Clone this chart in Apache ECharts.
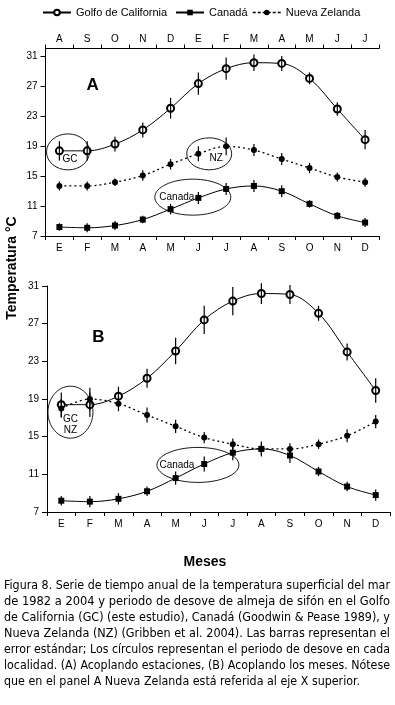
<!DOCTYPE html>
<html>
<head>
<meta charset="utf-8">
<script src="https://cdn.jsdelivr.net/npm/echarts@6/dist/echarts.min.js"></script>
<style>
html,body{margin:0;padding:0;background:#fff;}
#c{width:395px;height:705px;}
</style>
</head>
<body>
<div id="c"></div>
<script>
// ---------- data ----------
const months = ['E','F','M','A','M','J','J','A','S','O','N','D'];
const topMonths = ['A','S','O','N','D','E','F','M','A','M','J','J'];
const yTicks = [7, 11, 15, 19, 23, 27, 31];
const gcTemp = [18.4, 18.4, 19.3, 21.2, 24.1, 27.4, 29.4, 30.2, 30.1, 28.1, 24.0, 19.9];
const gcErr  = [1.3, 1.3, 1.0, 1.0, 1.4, 1.5, 1.5, 1.1, 1.0, 0.8, 0.9, 1.3];
const canTemp = [8.2, 8.1, 8.4, 9.2, 10.6, 12.1, 13.3, 13.7, 13.0, 11.3, 9.7, 8.8];
const canErr  = [0.5, 0.6, 0.6, 0.5, 0.7, 0.8, 0.8, 0.8, 0.8, 0.5, 0.5, 0.6];
const nzTemp = [18.0, 19.0, 18.5, 17.3, 16.1, 14.9, 14.2, 13.7, 13.7, 14.2, 15.1, 16.6]; // Ene..Dic
const nzErr  = [1.0, 1.2, 0.8, 0.8, 0.7, 0.6, 0.6, 0.6, 0.6, 0.5, 0.7, 0.7];
const nzShiftA = 7; // panel A: NZ referred to the upper axis, which starts in August
const names = ['Golfo de California', 'Canadá', 'Nueva Zelanda'];
const captionLines = [
  'Figura 8. Serie de tiempo anual de la temperatura superficial del mar',
  'de 1982 a 2004 y periodo de desove de almeja de sifón en el Golfo',
  'de California (GC) (este estudio), Canadá (Goodwin & Pease 1989), y',
  'Nueva Zelanda (NZ) (Gribben et al. 2004). Las barras representan el',
  'error estándar; Los círculos representan el periodo de desove en cada',
  'localidad. (A) Acoplando estaciones, (B) Acoplando los meses. Nótese',
  'que en el panel A Nueva Zelanda está referida al eje X superior.'
];

// ---------- helpers ----------
const nzA = topMonths.map((_, k) => nzTemp[(k + nzShiftA) % 12]);
const nzErrA = topMonths.map((_, k) => nzErr[(k + nzShiftA) % 12]);
const FONT = "'Liberation Sans', Arial, sans-serif";

function pickFont(list) {
  const cv = document.createElement('canvas').getContext('2d');
  const s = 'abcdefghijklmnopqrstuvwxyz ABCDEFG 0123456789';
  cv.font = '20px monospace'; const base = cv.measureText(s).width;
  for (const f of list) { cv.font = "20px '" + f + "', monospace"; if (Math.abs(cv.measureText(s).width - base) > 0.5) return f; }
  return 'Liberation Sans';
}
const capFont = pickFont(['Liberation Sans Narrow', 'DejaVu Sans Condensed', 'Liberation Sans']);

const axisStyle = { lineStyle: { color: '#000', width: 1 } };
function xCat(gridIndex, data, position) {
  return {
    type: 'category', gridIndex, data, position, boundaryGap: true,
    axisLine: axisStyle,
    axisTick: { show: true, length: 4, lineStyle: { color: '#000' } },
    axisLabel: { color: '#000', fontSize: 10, fontFamily: FONT, margin: position === 'top' ? 4 : 7, interval: 0 },
    splitLine: { show: false }
  };
}
function yVal(gridIndex, max) {
  return {
    type: 'value', gridIndex, min: 7, max, interval: 4,
    axisLine: { show: true, lineStyle: { color: '#000', width: 1 } },
    axisTick: { show: true, length: 5, lineStyle: { color: '#000' }, customValues: yTicks },
    axisLabel: { color: '#000', fontSize: 10, fontFamily: FONT, margin: 8, customValues: yTicks,
      formatter: v => (Number.isInteger(v) ? String(v) : '') },
    splitLine: { show: false }
  };
}
function lineSeries(name, xi, yi, data, kind) {
  const s = {
    name, type: 'line', xAxisIndex: xi, yAxisIndex: yi, data, smooth: 0.35,
    lineStyle: { color: '#000', width: 1 }, itemStyle: { color: '#000' },
    symbolSize: 6, z: 3, animation: false
  };
  if (kind === 'gc') { s.symbol = 'emptyCircle'; s.symbolSize = 7; s.itemStyle = { color: '#000', borderColor: '#000', borderWidth: 0.8 }; }
  if (kind === 'can') { s.symbol = 'rect'; s.symbolSize = 6; }
  if (kind === 'nz') { s.symbol = 'circle'; s.symbolSize = 6; s.lineStyle = { color: '#000', width: 1.3, type: [2, 3] }; }
  return s;
}
function errSeries(xi, yi, vals, errs) {
  return {
    type: 'custom', xAxisIndex: xi, yAxisIndex: yi, silent: true, z: 6, animation: false,
    data: vals.map((v, i) => [i, v - errs[i], v + errs[i]]),
    encode: { x: 0, y: [1, 2] },
    renderItem: (params, api) => {
      const lo = api.coord([api.value(0), api.value(1)]);
      const hi = api.coord([api.value(0), api.value(2)]);
      return { type: 'line', shape: { x1: lo[0], y1: lo[1], x2: hi[0], y2: hi[1] }, style: { stroke: '#000', lineWidth: 1.2 } };
    }
  };
}
const legendBase = (name, left, extra) => Object.assign({
  data: [name], left, top: 2, itemWidth: 28, itemHeight: 7, itemGap: 0, selectedMode: false,
  textStyle: { color: '#000', fontSize: 11, fontFamily: FONT }
}, extra || {});

const chart = echarts.init(document.getElementById('c'), null, { renderer: 'canvas' });
chart.setOption({
  animation: false,
  backgroundColor: '#fff',
  legend: [
    legendBase(names[0], 37),
    legendBase(names[1], 170),
    legendBase(names[2], 247, { lineStyle: { type: [3, 2], width: 1.5 } })
  ],
  grid: [
    { left: 45.5, top: 48.5, width: 333.5, height: 187.5 },
    { left: 47, top: 286, width: 343, height: 226 }
  ],
  xAxis: [
    xCat(0, months, 'bottom'),
    xCat(0, topMonths, 'top'),
    xCat(1, months, 'bottom')
  ],
  yAxis: [ yVal(0, 32.1), yVal(1, 31) ],
  series: [
    lineSeries(names[0], 0, 0, gcTemp, 'gc'),
    lineSeries(names[1], 0, 0, canTemp, 'can'),
    lineSeries(names[2], 1, 0, nzA, 'nz'),
    errSeries(0, 0, gcTemp, gcErr),
    errSeries(0, 0, canTemp, canErr),
    errSeries(1, 0, nzA, nzErrA),
    lineSeries(names[0], 2, 1, gcTemp, 'gc'),
    lineSeries(names[1], 2, 1, canTemp, 'can'),
    lineSeries(names[2], 2, 1, nzTemp, 'nz'),
    errSeries(2, 1, gcTemp, gcErr),
    errSeries(2, 1, canTemp, canErr),
    errSeries(2, 1, nzTemp, nzErr)
  ]
});

// ---------- annotations (spawning-period ellipses), placed in data coordinates ----------
const annotations = [
  { xi: 0, yi: 0, cat: 0.31, val: 18.26, rx: 21.5, ry: 18, labels: [['GC', 2, 7]] },
  { xi: 0, yi: 0, cat: 5.39, val: 18.0, rx: 22.5, ry: 16, labels: [['NZ', 7, 4]] },
  { xi: 0, yi: 0, cat: 4.80, val: 12.2, rx: 38, ry: 18, labels: [['Canada', -16, 0]] },
  { xi: 2, yi: 1, cat: 0.32, val: 17.6, rx: 22.5, ry: 26, labels: [['GC', 0, 7], ['NZ', 0, 18]] },
  { xi: 2, yi: 1, cat: 4.78, val: 12.0, rx: 41, ry: 17.5, labels: [['Canada', -21, 0]] }
];
function toPx(xi, yi, cat, val) {
  const f = Math.floor(cat), t = cat - f;
  const a = chart.convertToPixel({ xAxisIndex: xi, yAxisIndex: yi }, [f, val]);
  const b = chart.convertToPixel({ xAxisIndex: xi, yAxisIndex: yi }, [f + 1, val]);
  return [a[0] + (b[0] - a[0]) * t, a[1]];
}
const graphics = [];
annotations.forEach(an => {
  const p = toPx(an.xi, an.yi, an.cat, an.val);
  graphics.push({ type: 'ellipse', silent: true, z: 10,
    shape: { cx: p[0], cy: p[1], rx: an.rx, ry: an.ry },
    style: { fill: 'none', stroke: '#000', lineWidth: 0.9 } });
  an.labels.forEach(l => graphics.push({ type: 'text', silent: true, z: 11, x: p[0] + l[1], y: p[1] + l[2],
    style: { text: l[0], font: '10px ' + FONT, fill: '#000', textAlign: 'center', textVerticalAlign: 'middle' } }));
});
// panel letters
const pA = toPx(0, 0, 1.2, 27.2), pB = toPx(2, 1, 1.3, 25.5);
graphics.push({ type: 'text', x: pA[0], y: pA[1], style: { text: 'A', font: 'bold 17px ' + FONT, fill: '#000', textAlign: 'center', textVerticalAlign: 'middle' } });
graphics.push({ type: 'text', x: pB[0], y: pB[1], style: { text: 'B', font: 'bold 17px ' + FONT, fill: '#000', textAlign: 'center', textVerticalAlign: 'middle' } });
// axis titles
graphics.push({ type: 'text', x: 12, y: 268, rotation: Math.PI / 2,
  style: { text: 'Temperatura °C', font: 'bold 14px ' + FONT, fill: '#000', textAlign: 'center', textVerticalAlign: 'middle' } });
graphics.push({ type: 'text', x: 205, y: 562,
  style: { text: 'Meses', font: 'bold 14px ' + FONT, fill: '#000', textAlign: 'center', textVerticalAlign: 'middle' } });
// caption (justified by horizontal scaling of each full line)
const ctx = document.createElement('canvas').getContext('2d');
const capSize = 13;
ctx.font = capSize + "px '" + capFont + "'";
const fullScale = 386 / ctx.measureText(captionLines[0]).width;
captionLines.forEach((t, i) => {
  const w = ctx.measureText(t).width;
  const last = i === captionLines.length - 1;
  graphics.push({ type: 'text', x: 4, y: 586 + i * 16, scaleX: last ? fullScale : 386 / w,
    style: { text: t, font: capSize + "px '" + capFont + "'", fill: '#000', textAlign: 'left', textVerticalAlign: 'middle' } });
});
chart.setOption({ graphic: graphics });
</script>
</body>
</html>
